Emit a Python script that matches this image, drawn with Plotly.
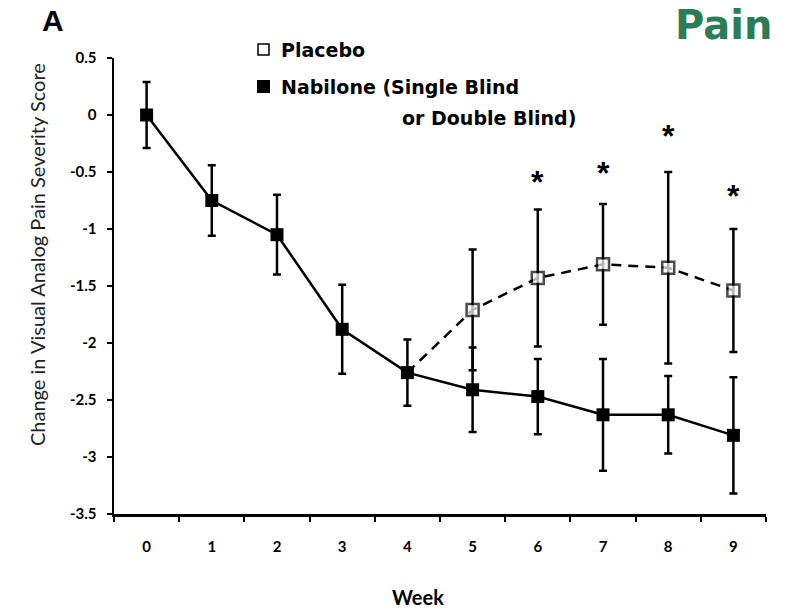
import plotly.graph_objects as go

# ---- data ----
weeks = ["0", "1", "2", "3", "4", "5", "6", "7", "8", "9"]
nabilone = [0.0, -0.75, -1.05, -1.88, -2.26, -2.41, -2.47, -2.63, -2.63, -2.81]
nabilone_err = [0.29, 0.31, 0.35, 0.39, 0.29, 0.37, 0.33, 0.49, 0.34, 0.51]
placebo_weeks = ["4", "5", "6", "7", "8", "9"]
placebo = [-2.26, -1.71, -1.43, -1.31, -1.34, -1.54]
placebo_err = [0.0, 0.53, 0.60, 0.53, 0.84, 0.54]
star_weeks = ["6", "7", "8", "9"]
star_y = [-0.56, -0.48, -0.16, -0.68]
y_ticks = [0.5, 0, -0.5, -1, -1.5, -2, -2.5, -3, -3.5]
y_ticktext = ["0.5", "0", "-0.5", "-1", "-1.5", "-2", "-2.5", "-3", "-3.5"]

W, H = 787, 609
PLOT_L, PLOT_R, PLOT_T, PLOT_B = 114, 766, 58, 514  # pixel box of the plot area
L, R, T, B = PLOT_L, W - PLOT_R, PLOT_T, H - PLOT_B
PW, PH = PLOT_R - PLOT_L, PLOT_B - PLOT_T


def px(x):
    return (x - PLOT_L) / PW


def py(y):
    return (PLOT_B - y) / PH


ARIAL = "Liberation Sans, Arial, sans-serif"
WIDE = "DejaVu Sans, sans-serif"
CAL = "Lato, sans-serif"

fig = go.Figure()

fig.add_trace(go.Scatter(
    x=placebo_weeks, y=placebo, mode="lines+markers",
    line=dict(color="black", width=2.5, dash="10px,7px"),
    marker=dict(symbol="square", size=[0] + [12] * (len(placebo) - 1),
                color="white", line=dict(color="black", width=2.5)),
    error_y=dict(type="data", array=placebo_err, visible=True,
                 color="black", thickness=2.5, width=4),
    showlegend=False, hoverinfo="skip"))

fig.add_trace(go.Scatter(
    x=weeks, y=nabilone, mode="lines+markers",
    line=dict(color="black", width=2.5),
    marker=dict(symbol="square", size=13, color="black",
                line=dict(color="black", width=0)),
    error_y=dict(type="data", array=nabilone_err, visible=True,
                 color="black", thickness=2.5, width=4),
    showlegend=False, hoverinfo="skip"))

annotations = []
for wk, sy in zip(star_weeks, star_y):
    annotations.append(dict(x=wk, y=sy, xref="x", yref="y", text="<b>*</b>",
                            showarrow=False, yshift=-3,
                            xanchor="center", yanchor="middle",
                            font=dict(family=ARIAL, size=32, color="black")))


def note(x, y, text, font, xanchor="center", angle=0):
    return dict(x=px(x), y=py(y), xref="paper", yref="paper", text=text,
                showarrow=False, xanchor=xanchor, yanchor="middle",
                textangle=angle, font=font)


annotations += [
    note(53, 21, "<b>A</b>", dict(family=ARIAL, size=30, color="black")),
    note(774, 25, "<b>Pain</b>", dict(family=WIDE, size=40, color="#2B7D55"),
         xanchor="right"),
    note(279, 50, "<b>Placebo</b>", dict(family=WIDE, size=19, color="black"),
         xanchor="left"),
    note(279, 87, "<b>Nabilone (Single Blind</b>",
         dict(family=WIDE, size=19, color="black"), xanchor="left"),
    note(400, 118, "<b>or Double Blind)</b>",
         dict(family=WIDE, size=19, color="black"), xanchor="left"),
    note(418, 597, "<b>Week</b>", dict(family=CAL, size=20, color="black")),
    note(37, 255, "Change in Visual Analog Pain Severity Score",
         dict(family=CAL, size=20, color="#222"), angle=-90),
]

shapes = [
    dict(type="rect", xref="paper", yref="paper",
         x0=px(258), x1=px(269), y0=py(55), y1=py(44),
         fillcolor="white", line=dict(color="black", width=1.5)),
    dict(type="rect", xref="paper", yref="paper",
         x0=px(257), x1=px(270), y0=py(93), y1=py(80),
         fillcolor="black", line=dict(color="black", width=0)),
]

tickfont = dict(family=CAL, size=15, color="black", weight="bold")

fig.update_layout(
    width=W, height=H,
    margin=dict(l=L, r=R, t=T, b=B, autoexpand=False),
    plot_bgcolor="white", paper_bgcolor="white",
    annotations=annotations, shapes=shapes,
    xaxis=dict(type="category", categoryorder="array", categoryarray=weeks,
               range=[-0.5, 9.5], tickson="boundaries", ticks="outside",
               ticklen=5, tickwidth=2, tickcolor="black",
               showline=True, linecolor="black", linewidth=2.5,
               showgrid=False, zeroline=False, ticklabelstandoff=17,
               automargin=False, tickfont=tickfont),
    yaxis=dict(range=[-3.5, 0.5], tickvals=y_ticks, ticktext=y_ticktext,
               ticks="outside", ticklen=5, tickwidth=2, tickcolor="black",
               showline=True, linecolor="black", linewidth=2.5,
               showgrid=False, zeroline=False, ticklabelstandoff=7,
               automargin=False, tickfont=tickfont),
)

fig.write_html("out.html",
               config={"displayModeBar": False, "staticPlot": True},
               post_script="document.body.style.margin='0px';")
